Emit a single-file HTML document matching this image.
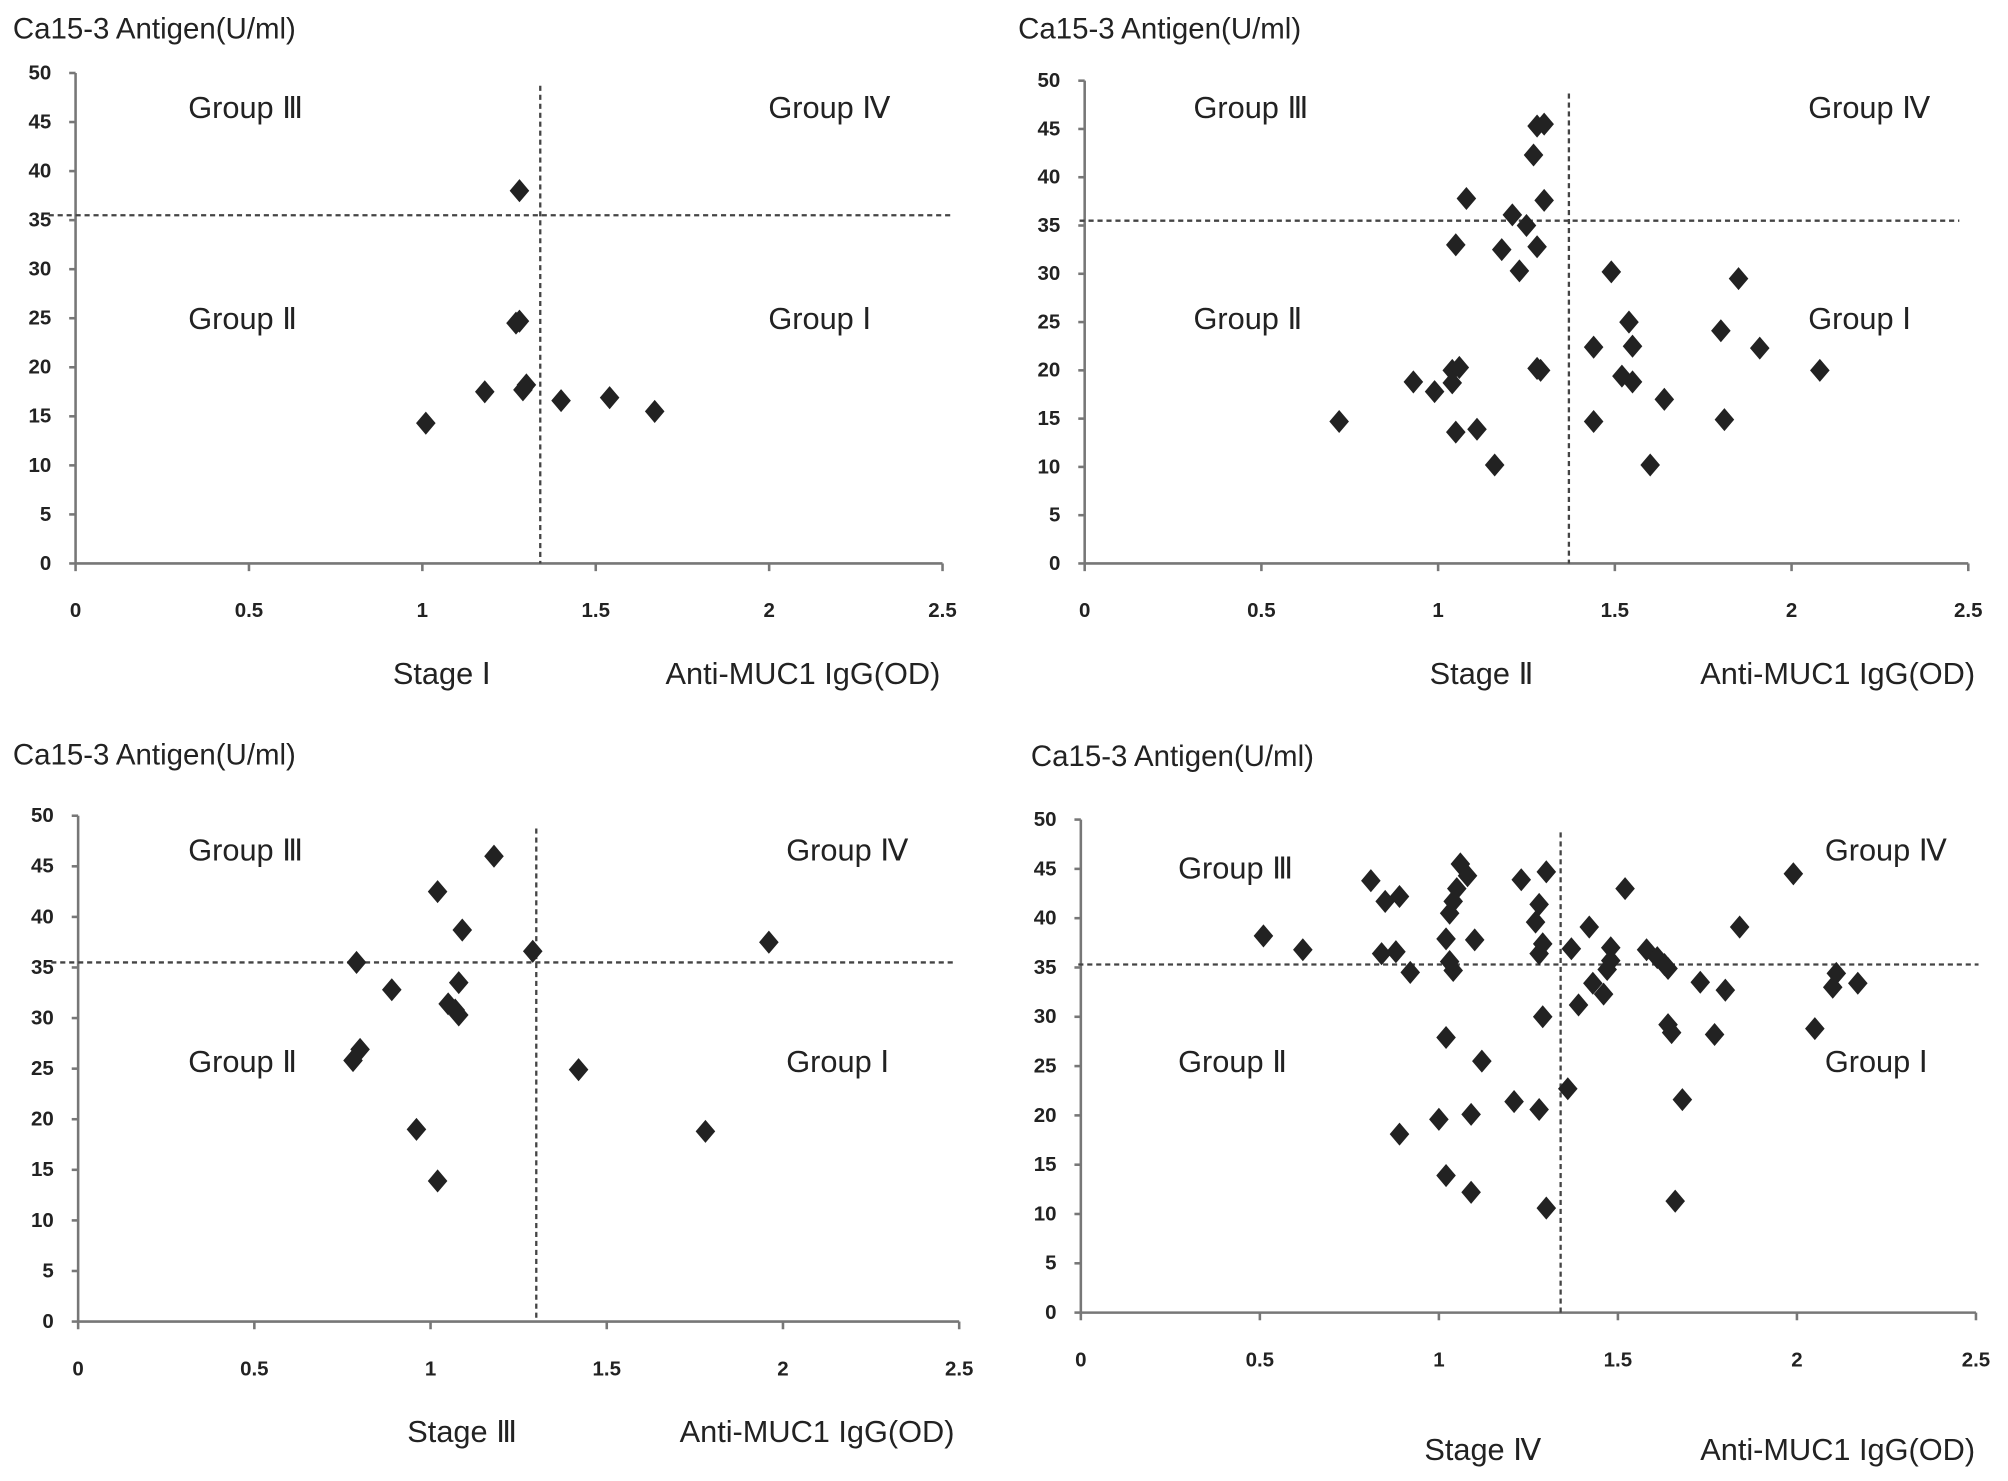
<!DOCTYPE html>
<html><head><meta charset="utf-8"><style>
html,body{margin:0;padding:0;background:#fff;}
svg{display:block;}
text{font-family:"Liberation Sans",sans-serif;fill:#222;}
</style></head><body>
<svg id="fig" width="2008" height="1481" viewBox="0 0 1568 1156.5" xmlns="http://www.w3.org/2000/svg"></svg>
<script>
const xTicks=[0,0.5,1,1.5,2,2.5];
const xTickLabels=["0","0.5","1","1.5","2","2.5"];
const yTicks=[0,5,10,15,20,25,30,35,40,45,50];
const yTickLabels=["0","5","10","15","20","25","30","35","40","45","50"];
const stageNames=["Stage Ⅰ","Stage Ⅱ","Stage Ⅲ","Stage Ⅳ"];
const cutoffY=[35.5,35.5,35.5,35.3];
const cutoffX=[1.34,1.37,1.30,1.34];
const s1x=[1.01,1.18,1.28,1.27,1.28,1.29,1.30,1.40,1.54,1.67];
const s1y=[14.3,17.5,38,24.5,24.7,17.7,18.2,16.6,16.9,15.5];
const s2x=[1.3,1.28,1.27,1.08,1.30,1.21,1.25,1.05,1.18,1.28,1.23,1.49,1.85,1.54,1.80,1.44,1.55,1.91,1.04,1.06,1.28,1.29,2.08,0.93,0.99,1.04,1.52,1.55,1.64,0.72,1.05,1.11,1.44,1.81,1.16,1.60];
const s2y=[45.5,45.3,42.3,37.8,37.6,36.1,35,33,32.5,32.8,30.3,30.2,29.5,25,24.1,22.4,22.5,22.3,20,20.3,20.2,20,20,18.8,17.8,18.7,19.4,18.8,17,14.7,13.6,13.9,14.7,14.9,10.2,10.2];
const s3x=[1.18,1.02,1.09,1.29,1.96,0.79,0.89,1.08,1.05,1.07,1.08,0.80,0.78,1.42,0.96,1.78,1.02];
const s3y=[46,42.5,38.7,36.6,37.5,35.5,32.8,33.5,31.4,30.8,30.3,26.9,25.8,24.9,19,18.8,13.9];
const s4x=[0.51,0.62,0.81,0.85,0.89,0.84,0.88,0.92,0.89,1.06,1.08,1.05,1.04,1.03,1.02,1.03,1.04,1.10,1.02,1.12,1.00,1.09,1.21,1.02,1.09,1.23,1.30,1.28,1.27,1.29,1.28,1.29,1.28,1.30,1.36,1.37,1.39,1.52,1.42,1.43,1.46,1.48,1.48,1.47,1.58,1.61,1.63,1.64,1.64,1.65,1.68,1.66,1.73,1.80,1.77,1.84,1.99,2.11,2.10,2.17,2.05];
const s4y=[38.2,36.8,43.8,41.7,42.2,36.4,36.6,34.5,18.1,45.5,44.3,43,41.7,40.5,37.9,35.6,34.7,37.8,27.9,25.5,19.6,20.1,21.4,13.9,12.2,43.9,44.7,41.4,39.6,37.4,36.4,30,20.6,10.6,22.7,36.9,31.2,43,39.1,33.4,32.3,37,35.7,34.8,36.8,36,35.3,34.9,29.2,28.4,21.6,11.3,33.5,32.7,28.2,39.1,44.5,34.4,33,33.4,28.8];
const seriesX=[s1x,s2x,s3x,s4x];
const seriesY=[s1y,s2y,s3y,s4y];

const panels=[
 {x0:59,x1:736,y0:440,y1:57,tx:10,ty:30,gl:147,gr:600,gt:92,gt2:92,gb:257,stx:345,ax:627,sy:534,hl:38,hr:742},
 {x0:847,x1:1537,y0:440,y1:63,tx:795,ty:30,gl:932,gr:1412,gt:92,gt2:92,gb:257,stx:1157,ax:1435,sy:534,hl:843,hr:1530},
 {x0:61,x1:749,y0:1032,y1:637,tx:10,ty:597,gl:147,gr:614,gt:672,gt2:672,gb:837,stx:361,ax:638,sy:1126,hl:40,hr:745},
 {x0:844,x1:1543,y0:1025,y1:640,tx:805,ty:598,gl:920,gr:1425,gt:686,gt2:672,gb:837,stx:1158,ax:1435,sy:1140,hl:842,hr:1545}
];
const NS="http://www.w3.org/2000/svg";
const svg=document.getElementById('fig');
function mk(tag,attrs,parent){const e=document.createElementNS(NS,tag);for(const k in attrs)e.setAttribute(k,attrs[k]);(parent||svg).appendChild(e);return e;}
function txt(str,x,y,size,anchor,parent){const t=mk('text',{x:x,y:y,'font-size':size,'text-anchor':anchor||'start'},parent);t.textContent=str;return t;}

panels.forEach((p,i)=>{
 const g=mk('g',{});
 
 
 const sx=v=>p.x0+(v/2.5)*(p.x1-p.x0);
 const sy=v=>p.y0-(v/50)*(p.y0-p.y1);
 const t=txt("Ca15-3 Antigen(U/ml)",p.tx,p.ty,23,'start',g);
 
 
 const ya=mk('line',{x1:p.x0,y1:p.y0,x2:p.x0,y2:p.y1,stroke:'#777','stroke-width':2},g);
 
 
 const xa=mk('line',{x1:p.x0,y1:p.y0,x2:p.x1,y2:p.y0,stroke:'#777','stroke-width':2},g);
 
 
 yTicks.forEach((v,j)=>{
  mk('line',{x1:p.x0-5,y1:sy(v),x2:p.x0,y2:sy(v),stroke:'#777','stroke-width':2},g);
  const l=txt(yTickLabels[j],p.x0-19,sy(v)+5,16,'end',g);
  l.setAttribute('font-weight','bold');l.setAttribute('fill','#333');
  
  
 });
 xTicks.forEach((v,j)=>{
  mk('line',{x1:sx(v),y1:p.y0,x2:sx(v),y2:p.y0+6,stroke:'#777','stroke-width':2},g);
  const l=txt(xTickLabels[j],sx(v),p.y0+42,16,'middle',g);
  l.setAttribute('font-weight','bold');l.setAttribute('fill','#333');
  
  
 });
 const hl=mk('line',{x1:p.hl,y1:sy(cutoffY[i]),x2:p.hr,y2:sy(cutoffY[i]),stroke:'#444','stroke-width':1.8,'stroke-dasharray':'4,3'},g);
 
 
 const vl=mk('line',{x1:sx(cutoffX[i]),y1:p.y1+10,x2:sx(cutoffX[i]),y2:p.y0,stroke:'#444','stroke-width':1.8,'stroke-dasharray':'4,3'},g);
 
 
 [["Group Ⅲ",p.gl,p.gt],["Group Ⅳ",p.gr,p.gt2],["Group Ⅱ",p.gl,p.gb],["Group Ⅰ",p.gr,p.gb]].forEach(a=>{
  const l=txt(a[0],a[1],a[2],24,'start',g);
  
  
 });
 const st=txt(stageNames[i],p.stx,p.sy,24,'middle',g);
 
 
 const ax=txt("Anti-MUC1 IgG(OD)",p.ax,p.sy,24,'middle',g);
 
 
 const xs=seriesX[i], ys=seriesY[i];
 xs.forEach((xv,k)=>{
  const cx=sx(xv), cy=sy(ys[k]), r=9;
  const d=mk('polygon',{points:`${cx},${cy-r} ${cx+r*0.85},${cy} ${cx},${cy+r} ${cx-r*0.85},${cy}`,fill:'#222'},g);
  
  
 });
});
</script>
</body></html>
